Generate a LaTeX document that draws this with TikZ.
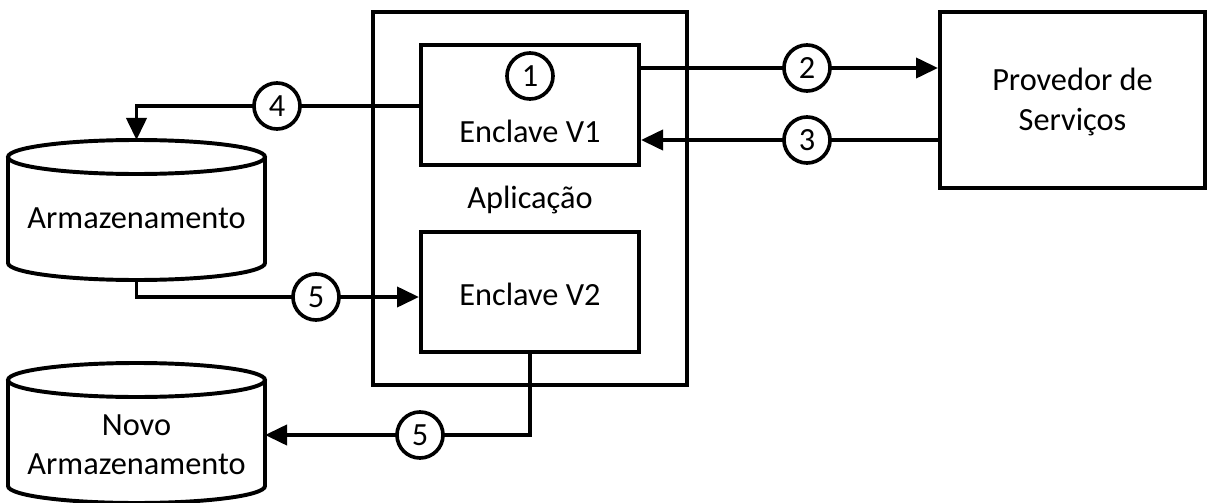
\documentclass[tikz,border=0pt]{standalone}
\usepackage{fontspec}
\setmainfont{Carlito}
\usetikzlibrary{arrows.meta}
\tikzset{
  line/.style={line width=2.8pt, line join=miter},
  box/.style={draw, line width=2.8pt, inner sep=0pt},
  num/.style={draw, circle, line width=2.6pt, fill=white, minimum size=1.15cm, inner sep=0pt},
  txt/.style={font=\fontsize{23}{28}\selectfont, align=center},
  arr/.style={line, -{Triangle[length=0.55cm, width=0.5cm]}}
}
\begin{document}
\begin{tikzpicture}[x=0.025cm, y=0.025cm]
  \useasboundingbox (0,0) rectangle (1217,502);
  % Boxes
  \node[box, minimum width=7.85cm, minimum height=9.325cm] (app) at (530,303.5) {};
  \node[box, minimum width=5.45cm, minimum height=3cm] (v1) at (530,397) {};
  \node[box, minimum width=5.45cm, minimum height=3cm] (v2) at (530,210) {};
  \node[box, minimum width=6.625cm, minimum height=4.4cm] (prov) at (1072.5,402) {};
  \node[txt] (v1txt) at (530,371) {Enclave V1};
  \node[txt] (v2txt) at (530,208) {Enclave V2};
  \node[txt] (apptxt) at (530,302) {Aplicação};
  \node[txt] (provtxt) at (1072.5,400) {Provedor de\\Serviços};
  % Storage cylinders
  \draw[line] (8,345) -- (8,239) arc[start angle=180, end angle=360, x radius=128.5, y radius=17] -- (265,345);
  \draw[line] (136.5,345) ellipse [x radius=128.5, y radius=17];
  \coordinate (armtop) at (136.5,362);
  \coordinate (armbot) at (136.5,222);
  \node[txt] (arm) at (136.5,284) {Armazenamento};
  \draw[line] (8,122) -- (8,16) arc[start angle=180, end angle=360, x radius=128.5, y radius=17] -- (265,122);
  \draw[line] (136.5,122) ellipse [x radius=128.5, y radius=17];
  \coordinate (novoright) at (265,67);
  \node[txt] (novo) at (136.5,57) {Novo\\Armazenamento};
  % Steps
  \coordinate (c2) at (807,434);
  \coordinate (c3) at (807,362);
  \coordinate (c4) at (277,396);
  \coordinate (c5a) at (316,205);
  \coordinate (c5b) at (420,67);
  \draw[line] (v1.east |- c2) -- (c2);
  \draw[arr] (c2) -- (prov.west |- c2);
  \draw[line] (prov.west |- c3) -- (c3);
  \draw[arr] (c3) -- (v1.east |- c3);
  \draw[line] (v1.west |- c4) -- (c4);
  \draw[arr] (c4) -| (armtop);
  \draw[line] (armbot) |- (c5a);
  \draw[arr] (c5a) -- (v2.west |- c5a);
  \draw[line] (v2.south) |- (c5b);
  \draw[arr] (c5b) -- (novoright |- c5b);
  \node[num, txt] (n1) at (530,426) {1};
  \node[num, txt] (n2) at (c2) {2};
  \node[num, txt] (n3) at (c3) {3};
  \node[num, txt] (n4) at (c4) {4};
  \node[num, txt] (n5a) at (c5a) {5};
  \node[num, txt] (n5b) at (c5b) {5};
\end{tikzpicture}
\end{document}
